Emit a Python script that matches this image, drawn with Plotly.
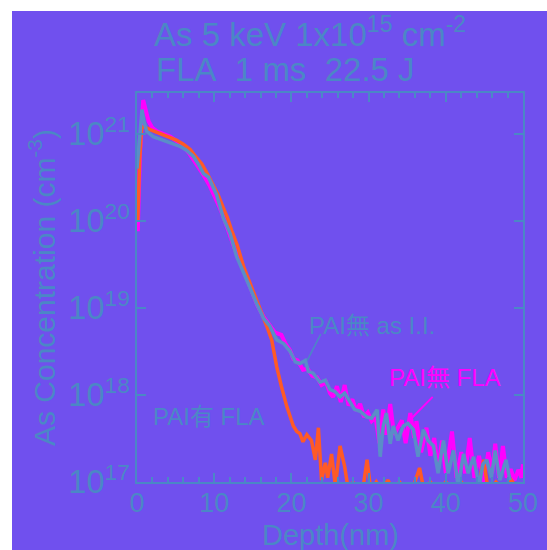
import plotly.graph_objects as go

# ---------------- data (depth in nm, concentration in cm^-3) ----------------
depth_pai_fla = [0.1, 0.35, 0.6, 1.0, 1.7, 2.5, 3.4, 4.3, 5.1, 6.0, 6.9, 7.6, 8.4, 9.1, 9.9,
                 10.5, 11.2, 11.7, 12.3, 13.0, 13.8, 14.6, 15.5, 16.2, 16.8, 17.45, 17.8, 18.1,
                 18.7, 19.4, 20.25, 20.7, 21.1, 21.5, 22.0, 22.6, 23.1, 23.5, 23.9, 24.4, 24.7,
                 25.2, 25.7, 26.3, 26.9, 27.4, 28.0, 28.6, 29.3, 29.8, 30.3, 31.0, 31.7, 32.5,
                 33.3, 34.0, 35.0, 35.8, 36.6, 37.2, 38.0, 39.0, 40.0, 41.0, 42.0, 43.0, 44.2,
                 44.9, 45.5, 46.5, 47.5, 48.5, 49.5]
conc_pai_fla = [1.0e20, 5.0e20, 1.2e21, 1.2e21, 1.12e21, 1.05e21, 9.8e20, 9.1e20, 8.5e20, 7.6e20,
                6.6e20, 5.5e20, 4.5e20, 3.5e20, 2.6e20, 2.0e20, 1.4e20, 1.1e20, 7.6e19, 5.2e19,
                3.0e19, 2.0e19, 1.26e19, 8.5e18, 6.2e18, 4.3e18, 2.8e18, 2.1e18, 1.26e18, 7.4e17,
                4.4e17, 3.8e17, 3.6e17, 2.9e17, 3.5e17, 3.0e17, 1.8e17, 4.2e17, 1.05e17, 1.66e17,
                1.12e17, 2.1e17, 8.9e16, 2.6e17, 1.5e17, 7.9e16, 1.0e17, 7.9e16, 8.9e16, 1.8e17,
                7.9e16, 1.0e17, 7.9e16, 1.05e17, 7.9e16, 1.0e17, 7.9e16, 8.9e16, 1.45e17, 7.9e16,
                1.0e17, 7.9e16, 1.0e17, 7.9e16, 1.0e17, 7.9e16, 8.9e16, 1.8e17, 7.9e16, 1.0e17,
                7.9e16, 1.05e17, 7.9e16]

depth_nopai_fla = [0.1, 0.4, 0.8, 1.1, 1.5, 2.0, 2.6, 3.4, 4.3, 5.1, 6.0, 6.8, 7.7, 8.5, 9.45,
                   10.1, 10.75, 11.3, 11.8, 12.5, 13.3, 14.0, 14.8, 15.6, 16.4, 17.2, 17.9, 18.7,
                   19.3, 19.8, 20.25, 20.8, 21.5, 22.1, 22.7, 23.3, 23.9, 24.5, 25.0, 25.4, 25.9,
                   26.4, 26.9, 27.4, 27.9, 28.4, 28.9, 29.4, 29.9, 30.4, 30.9, 31.4, 31.9, 32.3,
                   32.8, 33.3, 33.8, 34.3, 34.8, 35.4, 35.9, 36.2, 36.8, 37.5, 38.0, 38.5, 39.0,
                   39.5, 40.0, 40.8, 41.4, 42.0, 42.5, 43.1, 43.7, 44.3, 44.9, 45.5, 46.0, 46.4,
                   46.9, 47.4, 47.9, 48.4, 48.9, 49.4, 49.8, 50.0]
conc_nopai_fla = [7.6e19, 6.3e20, 2.45e21, 1.9e21, 1.4e21, 1.17e21, 1.07e21, 1.0e21, 9.3e20, 8.3e20,
                  7.2e20, 5.9e20, 4.5e20, 3.5e20, 2.5e20, 1.9e20, 1.4e20, 1.05e20, 7.6e19, 5.2e19,
                  3.5e19, 2.4e19, 1.6e19, 1.07e19, 7.9e18, 6.3e18, 5.2e18, 4.9e18, 3.8e18, 3.3e18,
                  2.6e18, 2.5e18, 1.95e18, 2.0e18, 1.66e18, 1.6e18, 1.3e18, 1.4e18, 1.05e18, 9.5e17,
                  1.26e18, 8.3e17, 1.3e18, 7.6e17, 8.9e17, 6.6e17, 7.9e17, 5.6e17, 6.3e17, 5.0e17,
                  5.5e17, 2.8e17, 6.8e17, 3.5e17, 7.9e17, 3.5e17, 4.2e17, 5.1e17, 2.8e17, 6.2e17,
                  3.2e17, 5.0e17, 2.2e17, 4.2e17, 2.0e17, 3.2e17, 1.4e17, 3.0e17, 1.26e17, 3.8e17,
                  1.12e17, 2.2e17, 1.26e17, 3.2e17, 1.12e17, 2.0e17, 1.0e17, 2.2e17, 1.26e17, 2.75e17,
                  1.12e17, 2.6e17, 1.12e17, 1.4e17, 1.05e17, 1.38e17, 1.12e17, 1.6e17]

depth_nopai_ii = [0.0, 0.3, 0.65, 0.9, 1.25, 2.1, 3.0, 3.84, 4.7, 5.57, 6.4, 7.3, 8.0, 8.6, 9.24,
                  9.45, 10.3, 11.2, 12.05, 12.9, 13.7, 14.6, 15.5, 16.4, 17.2, 18.1, 19.0, 19.8,
                  20.5, 21.1, 21.8, 22.2, 22.8, 23.7, 24.4, 25.0, 25.6, 26.3, 26.9, 27.6, 28.2,
                  28.9, 29.75, 30.4, 31.1, 31.5, 31.9, 32.3, 32.8, 33.2, 33.8, 34.5, 35.1, 35.8,
                  36.4, 37.1, 37.7, 38.4, 39.0, 39.7, 40.3, 41.0, 41.6, 42.3, 42.9, 43.6, 44.3,
                  44.8, 45.3, 45.9, 46.4, 47.0, 47.8, 48.3]
conc_nopai_ii = [4.0e20, 8.9e20, 1.9e21, 1.4e21, 1.07e21, 9.3e20, 8.7e20, 8.3e20, 7.8e20, 7.2e20,
                 6.5e20, 5.5e20, 4.4e20, 3.5e20, 3.2e20, 2.9e20, 2.0e20, 1.07e20, 7.2e19, 3.9e19,
                 2.6e19, 1.74e19, 1.12e19, 7.6e18, 6.2e18, 4.3e18, 3.9e18, 3.2e18, 2.4e18, 2.3e18,
                 2.5e18, 1.86e18, 1.78e18, 1.4e18, 1.48e18, 1.15e18, 1.1e18, 9.5e17, 1.05e18, 8.3e17,
                 6.8e17, 6.5e17, 5.6e17, 5.4e17, 6.8e17, 1.95e17, 4.4e17, 6.2e17, 2.75e17, 4.4e17,
                 3.0e17, 4.4e17, 4.7e17, 4.0e17, 1.95e17, 4.0e17, 3.0e17, 2.6e17, 1.26e17, 3.0e17,
                 1.26e17, 2.3e17, 8.9e16, 2.1e17, 1.26e17, 1.95e17, 8.9e16, 1.6e17, 1.8e17, 1.12e17,
                 2.3e17, 1.05e17, 1.8e17, 1.05e17]

# pointer lines for the curve labels (depth, concentration)
pointer_ii_depth = [23.8, 22.06]
pointer_ii_conc = [5.0e18, 2.5e18]
pointer_fla_depth = [38.3, 35.27]
pointer_fla_conc = [9.5e17, 5.1e17]

x_ticks = [0, 10, 20, 30, 40, 50]
title_line1 = "As 5 keV 1x10<sup>15</sup> cm<sup>-2</sup>"
title_line2 = "FLA\u00a0\u00a01 ms\u00a0\u00a022.5 J"
x_title = "Depth(nm)"
y_title = "As Concentration (cm<sup>-3</sup>)"
label_pai_fla = "PAI有 FLA"
label_nopai_fla = "PAI無 FLA"
label_nopai_ii = "PAI無 as I.I."

# ---------------- styling ----------------
BG = "#7050EE"
AX = "#4B87C6"
C_BLUE = "#5A8DC8"
C_ORANGE = "#FF5A26"
C_MAGENTA = "#FF00FF"
FONT = "Liberation Sans, Arial, Noto Sans CJK JP, sans-serif"

fig = go.Figure()
fig.add_trace(go.Scatter(x=depth_nopai_fla, y=conc_nopai_fla, mode="lines",
                         line=dict(color=C_MAGENTA, width=4), name=label_nopai_fla))
fig.add_trace(go.Scatter(x=depth_pai_fla, y=conc_pai_fla, mode="lines",
                         line=dict(color=C_ORANGE, width=3.5), name=label_pai_fla))
fig.add_trace(go.Scatter(x=depth_nopai_ii, y=conc_nopai_ii, mode="lines",
                         line=dict(color=C_BLUE, width=3.5), name=label_nopai_ii))
fig.add_trace(go.Scatter(x=pointer_ii_depth, y=pointer_ii_conc, mode="lines",
                         line=dict(color=AX, width=1.5), hoverinfo="skip"))
fig.add_trace(go.Scatter(x=pointer_fla_depth, y=pointer_fla_conc, mode="lines",
                         line=dict(color=C_MAGENTA, width=2), hoverinfo="skip"))

L, R, T, B = 137, 24, 93, 68
W, H = 547, 550
pw, ph = W - L - R, H - T - B


def px_x(p):
    return (p - L) / pw


def px_y(p):
    return (H - B - p) / ph


# purple background panel
fig.add_shape(type="rect", xref="paper", yref="paper",
              x0=px_x(12), x1=px_x(W + 10), y0=px_y(H + 10), y1=px_y(11),
              fillcolor=BG, line=dict(width=0), layer="below")

fig.add_annotation(x=30.4, y=18.80, xref="x", yref="y", text=label_nopai_ii, showarrow=False,
                   xanchor="center", yanchor="middle",
                   font=dict(size=24, color=AX, family=FONT))
fig.add_annotation(x=39.9, y=18.20, xref="x", yref="y", text=label_nopai_fla, showarrow=False,
                   xanchor="center", yanchor="middle",
                   font=dict(size=24, color=C_MAGENTA, family=FONT))
fig.add_annotation(x=9.33, y=17.75, xref="x", yref="y", text=label_pai_fla, showarrow=False,
                   xanchor="center", yanchor="middle",
                   font=dict(size=24, color=AX, family=FONT))

fig.add_annotation(x=px_x(152), y=px_y(32), xref="paper", yref="paper",
                   xanchor="left", yanchor="middle", text=title_line1, showarrow=False,
                   font=dict(size=33, color=AX, family=FONT))
fig.add_annotation(x=px_x(154), y=px_y(69), xref="paper", yref="paper",
                   xanchor="left", yanchor="middle", text=title_line2, showarrow=False,
                   font=dict(size=33, color=AX, family=FONT))
fig.add_annotation(x=px_x(330), y=px_y(535), xref="paper", yref="paper",
                   xanchor="center", yanchor="middle", text=x_title, showarrow=False,
                   font=dict(size=29, color=AX, family=FONT))

fig.update_layout(
    width=W, height=H,
    margin=dict(l=L, r=R, t=T, b=B, pad=0, autoexpand=False),
    paper_bgcolor="white",
    plot_bgcolor="rgba(0,0,0,0)",
    showlegend=False,
    font=dict(family=FONT, color=AX, size=26),
)
fig.update_xaxes(
    range=[0, 50], tickvals=x_ticks, ticks="inside", ticklen=9, tickwidth=2, tickcolor=AX,
    minor=dict(dtick=2, ticks="inside", ticklen=5, tickwidth=2, tickcolor=AX),
    showline=True, linecolor=AX, linewidth=2, mirror="ticks", showgrid=False, zeroline=False,
    automargin=False, ticklabelstandoff=-4,
    tickfont=dict(size=27, color=AX, family=FONT),
)
fig.update_yaxes(
    type="log", range=[17, 21.47], dtick=1, exponentformat="power", showexponent="all",
    ticks="inside", ticklen=9, tickwidth=2, tickcolor=AX,
    showline=True, linecolor=AX, linewidth=2, mirror="ticks", showgrid=False, zeroline=False,
    automargin=False,
    tickfont=dict(size=26, color=AX, family=FONT),
    title=dict(text=y_title, font=dict(size=30, color=AX, family=FONT), standoff=4),
)

fig.write_html("out.html")
